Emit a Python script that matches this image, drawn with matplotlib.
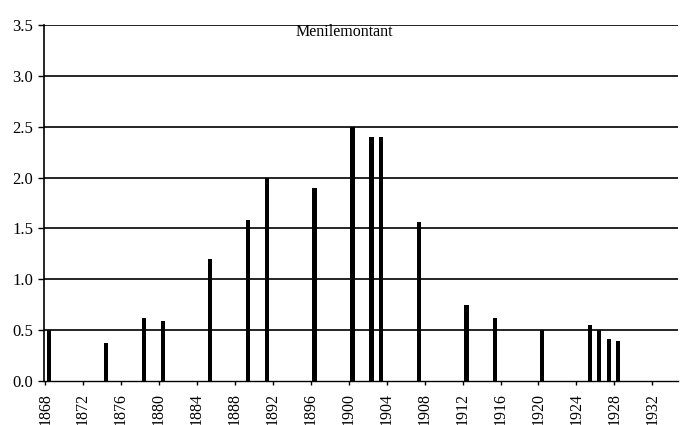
import numpy as np
import matplotlib
matplotlib.use("Agg")
import matplotlib.pyplot as plt

plt.rcParams['font.family'] = ['Liberation Serif', 'DejaVu Serif']

# years with a recorded value and the value for each
years = [1868, 1874, 1878, 1880, 1885, 1889, 1891, 1896, 1900, 1902,
         1903, 1907, 1912, 1915, 1920, 1925, 1926, 1927, 1928]
values = [0.50, 0.37, 0.62, 0.59, 1.20, 1.58, 2.00, 1.90, 2.50, 2.40,
          2.40, 1.56, 0.75, 0.62, 0.50, 0.55, 0.50, 0.41, 0.39]
tick_years = list(range(1868, 1936, 4))
y_ticks = [0.0, 0.5, 1.0, 1.5, 2.0, 2.5, 3.0, 3.5]
title = "Menilemontant"

fig = plt.figure(figsize=(6.8, 4.25), dpi=100)
ax = fig.add_axes([0.065, 0.104, 0.932, 0.837])

# bars sit inside the year cell, right of the tick
ax.bar(np.array(years) + 0.4, values, width=0.45, color='black', zorder=3)

for y in y_ticks[1:]:
    ax.axhline(y, color='black', lw=1.2, zorder=1)

ax.set_xlim(1867.9, 1934.7)
ax.set_ylim(0, 3.5)
ax.set_xticks(tick_years)
ax.set_xticklabels([str(t) for t in tick_years], rotation=90, fontsize=11.5)
ax.set_yticks(y_ticks)
ax.set_yticklabels(["%.1f" % v for v in y_ticks], fontsize=12)
ax.tick_params(axis='x', length=3, width=1, pad=6)
ax.tick_params(axis='y', length=4, width=1, pad=4)

for s in ['top', 'right']:
    ax.spines[s].set_visible(False)
ax.spines['left'].set_linewidth(1.2)
ax.spines['bottom'].set_linewidth(1.0)
ax.spines['bottom'].set_linestyle((0, (6, 1)))

ax.text(0.473, 1.004, title, transform=ax.transAxes, ha='center', va='top',
        fontsize=11.5)

fig.savefig("out.png", dpi=100)
